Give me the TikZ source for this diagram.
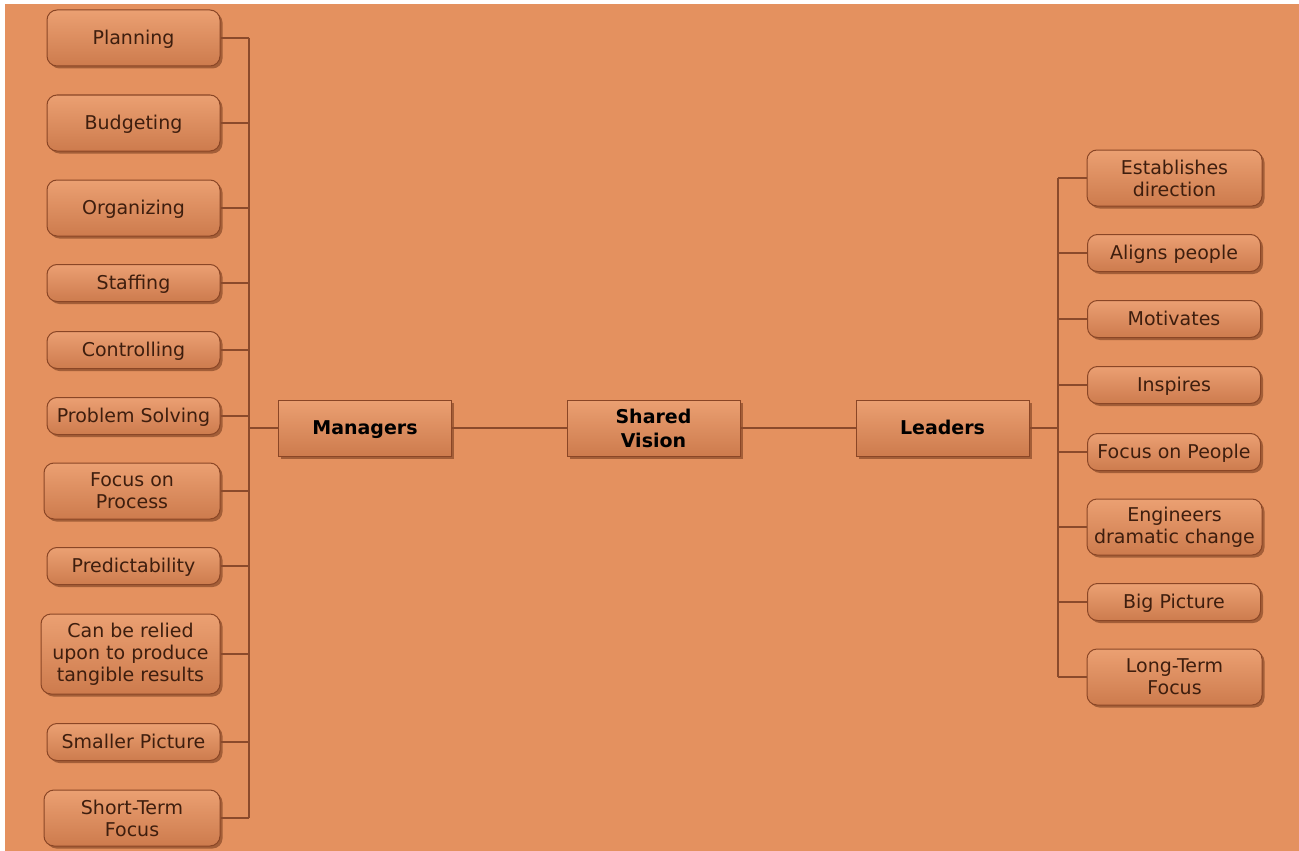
\documentclass[tikz,border=0pt]{standalone}
\usepackage{fontspec}
\setmainfont{DejaVu Sans}
\usetikzlibrary{shadows}
\definecolor{bgcol}{HTML}{E4915F}
\definecolor{boxtop}{HTML}{EBA072}
\definecolor{boxbot}{HTML}{CD7B4D}
\definecolor{boxborder}{HTML}{8A4626}
\definecolor{linecol}{HTML}{8B4A2B}
\definecolor{textcol}{HTML}{3E1E0E}
\definecolor{shadowcol}{HTML}{6E3518}
\tikzset{
  boxbase/.style={draw=boxborder, line width=1pt, top color=boxtop, bottom color=boxbot,
    inner sep=0pt, align=center,
    drop shadow={shadow xshift=2.5pt, shadow yshift=-2.5pt, fill=shadowcol, opacity=0.55}},
  leaf/.style={boxbase, rounded corners=10pt, minimum width=173pt, text=textcol,
    font=\fontsize{19}{22}\selectfont},
  hub/.style={boxbase, minimum width=173pt, minimum height=56pt, text=black,
    font=\fontsize{19}{24}\selectfont\bfseries},
  oneline/.style={text height=13.8pt, text depth=0pt},
  conn/.style={draw=linecol, line width=1.3pt},
}
\begin{document}
\begin{tikzpicture}[x=1pt,y=-1pt]
\useasboundingbox (0,0) rectangle (1299,851);
\fill[white] (-5,-5) rectangle (1310,860);
\fill[bgcol] (5,4) rectangle (1310,860);

% left leaves
\node[leaf, oneline, minimum height=56pt] (planning) at (133.5,38) {Planning};
\node[leaf, oneline, minimum height=56pt] (budgeting) at (133.5,123) {Budgeting};
\node[leaf, oneline, minimum height=56pt] (organizing) at (133.5,208) {Organizing};
\node[leaf, oneline, minimum height=37pt] (staffing) at (133.5,283) {Staffing};
\node[leaf, oneline, minimum height=37pt] (controlling) at (133.5,350) {Controlling};
\node[leaf, oneline, minimum height=37pt] (problem) at (133.5,416) {Problem Solving};
\node[leaf, minimum height=56pt, minimum width=176pt] (process) at (132,491) {Focus on\\Process};
\node[leaf, oneline, minimum height=37pt] (predict) at (133.5,566) {Predictability};
\node[leaf, minimum height=80pt, minimum width=179pt] (relied) at (130.5,654) {Can be relied\\upon to produce\\tangible results};
\node[leaf, oneline, minimum height=37pt] (smaller) at (133.5,742) {Smaller Picture};
\node[leaf, minimum height=56pt, minimum width=176pt] (shortterm) at (132,818) {Short-Term\\Focus};

% hubs
\node[hub, oneline] (managers) at (365,428) {Managers};
\node[hub] (shared) at (653.5,428) {Shared\\Vision};
\node[hub, oneline] (leaders) at (942.5,428) {Leaders};

% right leaves
\node[leaf, minimum height=56pt, minimum width=175pt] (establish) at (1174.5,178) {Establishes\\direction};
\node[leaf, oneline, minimum height=37pt] (aligns) at (1174,253) {Aligns people};
\node[leaf, oneline, minimum height=37pt] (motivates) at (1174,319) {Motivates};
\node[leaf, oneline, minimum height=37pt] (inspires) at (1174,385) {Inspires};
\node[leaf, oneline, minimum height=37pt] (people) at (1174,452) {Focus on People};
\node[leaf, minimum height=56pt, minimum width=175pt] (engineers) at (1174.5,527) {Engineers\\dramatic change};
\node[leaf, oneline, minimum height=37pt] (bigpic) at (1174,602) {Big Picture};
\node[leaf, minimum height=56pt, minimum width=175pt] (longterm) at (1174.5,677) {Long-Term\\Focus};

\coordinate (lbus) at (249,428);
\coordinate (rbus) at (1058,428);

% left connectors
\draw[conn] (planning.east -| lbus) -- (shortterm.east -| lbus);
\foreach \n in {planning,budgeting,organizing,staffing,controlling,problem,process,predict,relied,smaller,shortterm}
  \draw[conn] (\n.east) -- (\n.east -| lbus);
\draw[conn] (lbus) -- (managers.west);
\draw[conn] (managers.east) -- (shared.west);
\draw[conn] (shared.east) -- (leaders.west);
\draw[conn] (leaders.east) -- (rbus);

% right connectors
\draw[conn] (establish.west -| rbus) -- (longterm.west -| rbus);
\foreach \n in {establish,aligns,motivates,inspires,people,engineers,bigpic,longterm}
  \draw[conn] (\n.west) -- (\n.west -| rbus);
\end{tikzpicture}
\end{document}
